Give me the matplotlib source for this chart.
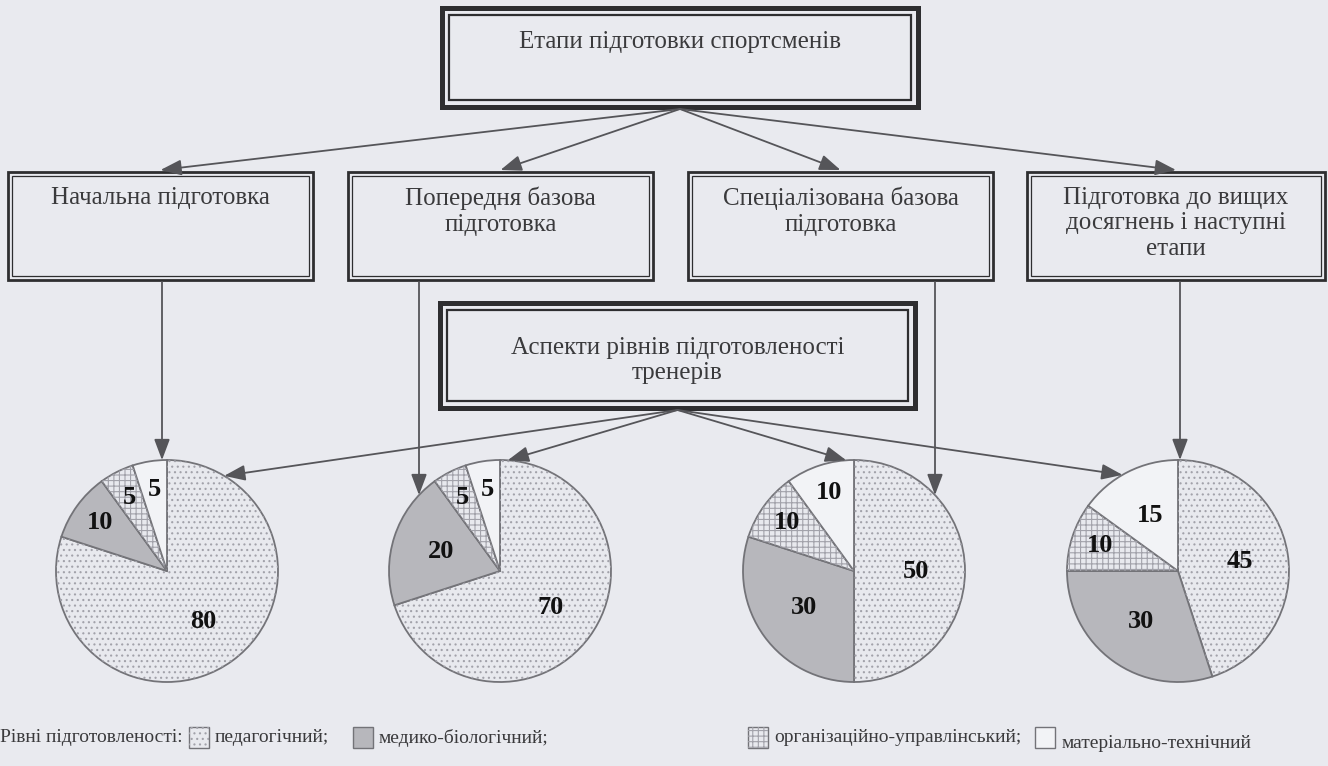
import matplotlib
matplotlib.use('Agg')
import matplotlib.pyplot as plt
from matplotlib.patches import Rectangle, Wedge
import numpy as np

# ---- data -------------------------------------------------------------
top_title = 'Етапи підготовки спортсменів'
mid_title = 'Аспекти рівнів підготовленості\nтренерів'
stages = ['Начальна підготовка',
          'Попередня базова\nпідготовка',
          'Спеціалізована базова\nпідготовка',
          'Підготовка до вищих\nдосягнень і наступні\nетапи']
levels = ['педагогічний;', 'медико-біологічний;',
          'організаційно-управлінський;', 'матеріально-технічний']
legend_title = 'Рівні підготовленості:'

shares_initial = [80, 10, 5, 5]
shares_prebase = [70, 20, 5, 5]
shares_specbase = [50, 30, 10, 10]
shares_higher = [45, 30, 10, 15]
all_shares = [shares_initial, shares_prebase, shares_specbase, shares_higher]

# ---- style / layout (pixels, y from top) -------------------------------
W, H = 1328, 766
BG = '#e9eaef'
LINE = '#2e2e30'
ARROW_C = '#555559'
EDGE = '#737378'
HATCH_C = '#a2a2aa'
TXT = '#3a3a3c'
SLICE_COLORS = ['#e8e9ee', '#b7b7bc', '#e8e9ee', '#f2f3f6']
HATCHES = ['...', None, '+++', None]

TOP_BOX = (442, 8, 918, 107)
MID_BOX = (440, 303, 915, 408)
STAGE_BOXES = [(8, 172, 313, 280), (348, 172, 653, 280),
               (688, 172, 993, 280), (1027, 172, 1325, 280)]
STAGE_LINE_X = [162, 419, 935, 1180]
PIE_CX = [167, 500, 854, 1178]
PIE_CY = 571
R = 111
MID_ARROW_ANG = [59, 86, 94, 120]

plt.rcParams['font.family'] = ['Liberation Serif', 'DejaVu Serif']
plt.rcParams['hatch.linewidth'] = 0.8


def fy(y):
    return H - y


fig = plt.figure(figsize=(13.28, 7.66), dpi=100, facecolor=BG)
ax = fig.add_axes([0, 0, 1, 1])
ax.set_facecolor(BG)
ax.set_xlim(0, W)
ax.set_ylim(0, H)


def double_box(b, heavy):
    x0, y0, x1, y1 = b
    if heavy:
        lw_out, inset, lw_in = 3.6, 7, 1.6
    else:
        lw_out, inset, lw_in = 2.0, 4, 0.9
    ax.add_patch(Rectangle((x0, fy(y1)), x1 - x0, y1 - y0, fill=False,
                           ec=LINE, lw=lw_out, joinstyle='miter'))
    ax.add_patch(Rectangle((x0 + inset, fy(y1 - inset)), x1 - x0 - 2 * inset,
                           y1 - y0 - 2 * inset, fill=False, ec=LINE, lw=lw_in,
                           joinstyle='miter'))


def arrow(x0, y0, x1, y1):
    ax.annotate('', xy=(x1, fy(y1)), xytext=(x0, fy(y0)),
                arrowprops=dict(arrowstyle='-|>,head_length=0.8,head_width=0.3',
                                color=ARROW_C, lw=1.3, mutation_scale=16,
                                shrinkA=0, shrinkB=0))


# boxes
double_box(TOP_BOX, True)
ax.text((TOP_BOX[0] + TOP_BOX[2]) / 2, fy(31), top_title, ha='center', va='top',
        fontsize=18, color=TXT)
double_box(MID_BOX, True)
ax.text((MID_BOX[0] + MID_BOX[2]) / 2, fy(337), mid_title, ha='center', va='top',
        fontsize=18, color=TXT, linespacing=1.2)

top_cx = (TOP_BOX[0] + TOP_BOX[2]) / 2
mid_cx = (MID_BOX[0] + MID_BOX[2]) / 2
for b, name, lx, cx, ang in zip(STAGE_BOXES, stages, STAGE_LINE_X, PIE_CX, MID_ARROW_ANG):
    double_box(b, False)
    ax.text((b[0] + b[2]) / 2, fy(b[1] + 15), name, ha='center', va='top',
            fontsize=18, color=TXT, linespacing=1.2)
    arrow(top_cx, TOP_BOX[3] + 2, (b[0] + b[2]) / 2, b[1] - 2)
    # stage -> pie (vertical)
    ty = PIE_CY - np.sqrt(R ** 2 - (lx - cx) ** 2)
    arrow(lx, b[3] + 2, lx, ty)
    # aspects -> pie
    a = np.deg2rad(ang)
    arrow(mid_cx, MID_BOX[3] + 2, cx + R * np.cos(a), PIE_CY - R * np.sin(a))

# pies
for shares, cx in zip(all_shares, PIE_CX):
    wedges, _ = ax.pie(shares, center=(cx, fy(PIE_CY)), radius=R, startangle=90,
                       counterclock=False, colors=SLICE_COLORS,
                       wedgeprops=dict(edgecolor=EDGE, linewidth=1.3))
    for w, h, v in zip(wedges, HATCHES, shares):
        if h:
            ax.add_patch(Wedge(w.center, w.r, w.theta1, w.theta2, fill=False,
                               hatch=h, ec=HATCH_C, lw=0, zorder=w.get_zorder() + 0.1))
        mid = np.deg2rad((w.theta1 + w.theta2) / 2)
        k = 0.56 if v >= 15 else 0.74
        ax.text(cx + k * R * np.cos(mid), fy(PIE_CY) + k * R * np.sin(mid), str(v),
                ha='center', va='center', fontsize=19, fontweight='bold',
                color='#111111', zorder=5)

ax.set_xlim(0, W)
ax.set_ylim(0, H)
ax.set_aspect('auto')
ax.axis('off')

# legend, laid out left to right from measured text widths
LEG_Y = 738
LEG_FS = 14
renderer = fig.canvas.get_renderer()


def text_end(t):
    bb = t.get_window_extent(renderer=renderer)
    return ax.transData.inverted().transform((bb.x1, bb.y0))[0]


t = ax.text(0, fy(LEG_Y), legend_title, ha='left', va='center', fontsize=LEG_FS, color=TXT)
x = text_end(t) + 6
gaps_before = [None, 24, None, 14]   # gap after previous text (None: fixed start)
fixed_start = {2: 748}
for i, (lab, fc, h) in enumerate(zip(levels, SLICE_COLORS, HATCHES)):
    if i in fixed_start:
        x = fixed_start[i]
    elif gaps_before[i] is not None:
        x = x + gaps_before[i]
    ax.add_patch(Rectangle((x, fy(LEG_Y + 10)), 20, 21, fc=fc, ec=EDGE, lw=1.0))
    if h:
        ax.add_patch(Rectangle((x, fy(LEG_Y + 10)), 20, 21, fill=False, hatch=h,
                               ec=HATCH_C, lw=0))
    dy = 5 if i == 3 else 0
    t = ax.text(x + 26, fy(LEG_Y + dy), lab, ha='left', va='center', fontsize=LEG_FS,
                color=TXT)
    x = text_end(t)

fig.savefig('out.png', dpi=100, facecolor=BG)
